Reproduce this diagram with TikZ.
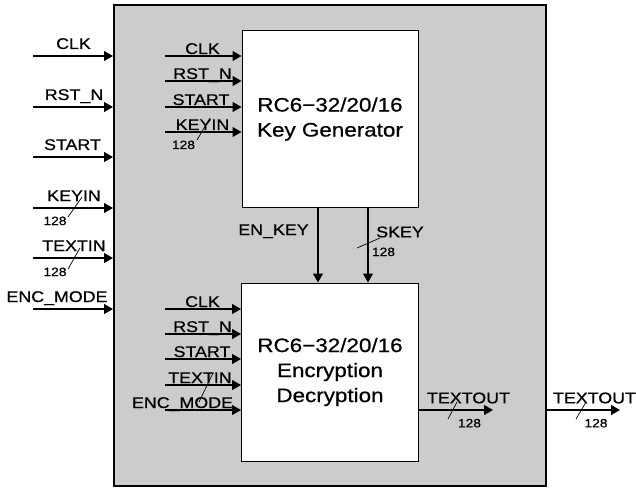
\documentclass[tikz,border=0pt]{standalone}
\usepackage{fontspec}
\setmainfont{Liberation Sans}[FakeStretch=1.15, FakeBold=0.6]
\usetikzlibrary{arrows.meta,calc}
\usepackage{xcolor}

\definecolor{boxgray}{gray}{0.8}
\newcommand{\lblfont}{\fontsize{15.5}{18}\selectfont}
\newcommand{\boxfont}{\fontsize{19.5}{25}\selectfont}
\newcommand{\widfont}{\fontsize{12}{14}\selectfont}

\begin{document}
\begin{tikzpicture}[x=1pt, y=1pt, >={Triangle[length=9pt,width=10pt]},
  sig/.style={->, line width=1.2pt},
  lbl/.style={font=\lblfont, anchor=base, inner sep=0pt},
  wid/.style={font=\widfont, anchor=base, inner sep=0pt},
  bus/.style={line width=0.7pt},
  blk/.style={draw, fill=white, line width=1pt, inner sep=0pt,
              font=\boxfont, align=center}]
  \useasboundingbox (0,0) rectangle (636,488);

  %% Top-level block (gray)
  \node[draw, line width=2pt, fill=boxgray, inner sep=0pt,
        minimum width=432pt, minimum height=481pt] (top) at (330,242.5) {};

  %% Sub-blocks
  \node[blk, minimum width=176pt, minimum height=176pt] (keygen) at (330,369)
    {RC6−32/20/16\\Key Generator};
  \node[blk, minimum width=177pt, minimum height=178pt] (encdec) at (330,116)
    {RC6−32/20/16\\Encryption\\Decryption};

  %% Top-level inputs
  \foreach \sig/\yy/\lx [count=\i] in {CLK/432/73.5, RST\_N/381/74, START/331/72.5,
      KEYIN/280/74, TEXTIN/230/74, ENC\_MODE/179/57} {
    \coordinate (pin\i) at (33,\yy);
    \draw[sig] (pin\i) -- (pin\i -| top.west);
    \node[lbl] (pinlbl\i) at (\lx,\yy+7) {\sig};
  }
  \draw[bus] (68,271) -- (82,291);
  \node[wid] (kwid) at (55,263) {128};
  \draw[bus] (68,219) -- (80,240);
  \node[wid] (twid) at (55,212) {128};

  %% Key generator inputs
  \foreach \sig/\yy/\lx [count=\i] in {CLK/432/202.5, RST\_N/407/202.5,
      START/381/201, KEYIN/356/202.5} {
    \coordinate (kin\i) at (165,\yy);
    \draw[sig] (kin\i) -- (kin\i -| keygen.west);
    \node[lbl] (kinlbl\i) at (\lx,\yy+2) {\sig};
  }
  \draw[bus] (197,348) -- (210,370);
  \node[wid] (kinwid) at (183.5,339) {128};

  %% Encryption / decryption inputs
  \foreach \sig/\yy/\lx [count=\i] in {CLK/179/202.5, RST\_N/154/202.5,
      START/129/202, TEXTIN/103/200, ENC\_MODE/78/182.5} {
    \coordinate (ein\i) at (165,\yy);
    \draw[sig] (ein\i) -- (ein\i -| encdec.west);
    \node[lbl] (einlbl\i) at (\lx,\yy+2) {\sig};
  }
  \draw[bus] (199,86) -- (213,115);

  %% Key generator -> encryption
  \coordinate (enkey) at (318,245);
  \coordinate (skey) at (368,245);
  \draw[sig] (keygen.south -| enkey) -- (encdec.north -| enkey);
  \draw[sig] (keygen.south -| skey) -- (encdec.north -| skey);
  \node[lbl] (enkeylbl) at (273.5,253) {EN\_KEY};
  \node[lbl] (skeylbl) at (400,250.7) {SKEY};
  \draw[bus] (357,240) -- (380,250);
  \node[wid] (skeywid) at (383.5,232) {128};

  %% Outputs
  \coordinate (tout) at (493,78);
  \coordinate (xout) at (620,78);
  \draw[sig] (encdec.east |- tout) -- (tout);
  \draw[sig] (top.east |- xout) -- (xout);
  \node[lbl] (toutlbl) at (468.5,84.7) {TEXTOUT};
  \draw[bus] (448,69) -- (457,86);
  \node[wid] (toutwid) at (469.5,60.7) {128};
  \node[lbl] (xoutlbl) at (594.5,84.7) {TEXTOUT};
  \draw[bus] (576,69) -- (586,86);
  \node[wid] (xoutwid) at (596,60.7) {128};
\end{tikzpicture}
\end{document}
